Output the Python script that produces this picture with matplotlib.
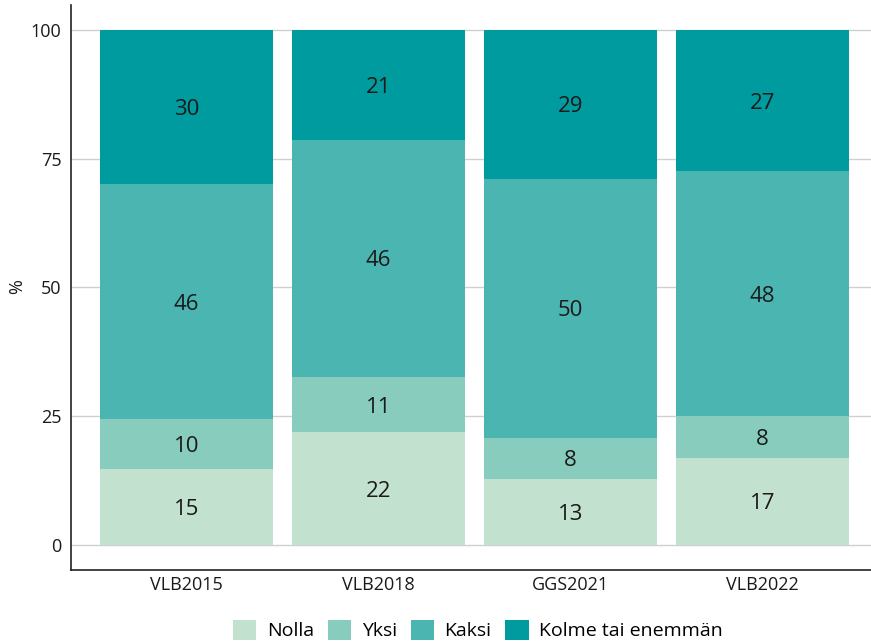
import matplotlib
matplotlib.use("Agg")
import matplotlib.pyplot as plt
import numpy as np

plt.rcParams['font.family'] = ['Open Sans', 'DejaVu Sans']

categories = ["VLB2015", "VLB2018", "GGS2021", "VLB2022"]
series_names = ["Nolla", "Yksi", "Kaksi", "Kolme tai enemmän"]
nolla = [14.7, 21.9, 12.8, 16.9]
yksi = [9.8, 10.7, 8.0, 8.1]
kaksi = [45.5, 46.1, 50.3, 47.6]
kolme = [30.0, 21.3, 28.9, 27.4]
colors = ["#c3e1cf", "#88ccbe", "#4ab5b1", "#009b9e"]
yticks = [0, 25, 50, 75, 100]

fig = plt.figure(figsize=(8.71, 6.43), dpi=100)
ax = fig.add_axes([71/871, (643-570)/643, 800/871, 565/643])

x = np.arange(len(categories))
bottom = np.zeros(len(categories))
for name, vals, col in zip(series_names, [nolla, yksi, kaksi, kolme], colors):
    vals = np.array(vals)
    ax.bar(x, vals, bottom=bottom, width=0.9, color=col, label=name, zorder=3)
    for xi, b, v in zip(x, bottom, vals):
        ax.text(xi, b + v/2, f"{round(v):d}", ha='center', va='center_baseline',
                fontsize=16, color='#1a1a1a', zorder=4)
    bottom += vals

ax.set_xlim(-0.6016, 3.565)
ax.set_ylim(-4.85, 104.85)
ax.set_yticks(yticks)
ax.set_xticks(x)
ax.set_xticklabels(categories)
ax.tick_params(axis='both', length=0, labelsize=13, colors='#1a1a1a')
ax.tick_params(axis='y', pad=7)
ax.tick_params(axis='x', pad=4)
ax.grid(axis='y', color='#d0d0d0', linewidth=1, zorder=0)
for s in ['top', 'right']:
    ax.spines[s].set_visible(False)
for s in ['left', 'bottom']:
    ax.spines[s].set_color('#222222')
    ax.spines[s].set_linewidth(1.2)

fig.text(17/871, 1 - 287/643, '%', rotation=90, ha='center', va='center',
         fontsize=13, color='#1a1a1a')

fig.legend(loc='center', bbox_to_anchor=(478/871, 1 - 630/643),
           ncol=4, frameon=False, fontsize=14, handlelength=1.2, handleheight=1.2,
           handletextpad=0.55, columnspacing=0.7)

fig.savefig('out.png', dpi=100)
